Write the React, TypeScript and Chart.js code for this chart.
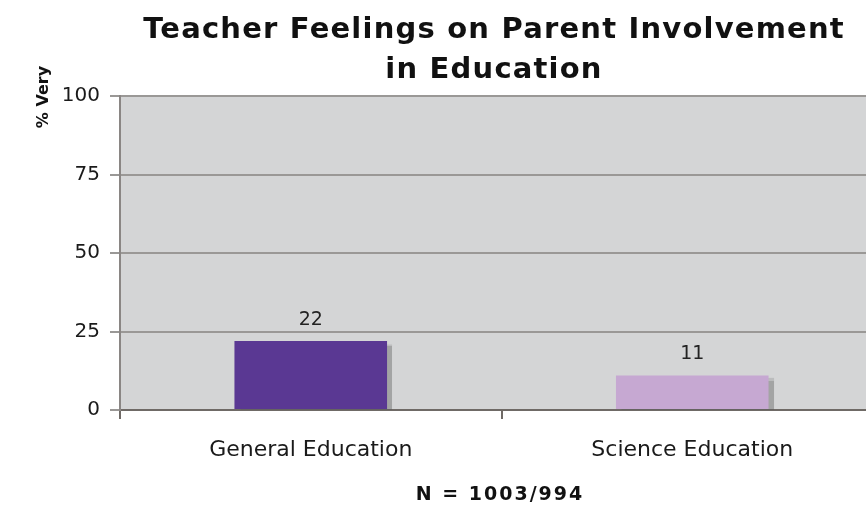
import React, { useEffect, useRef } from "react";
import { Chart, registerables } from "chart.js";

Chart.register(...registerables);

const categories = ["General Education", "Science Education"];
const values = [22, 11];
const barColors = ["#5a3893", "#c6a8d2"];
const titleLines = ["Teacher Feelings on Parent Involvement", "in Education"];
const yAxisTitle = "% Very";
const footnote = "N = 1003/994";

const FONT = "'DejaVu Sans', 'Noto Sans', sans-serif";

const decorPlugin = {
  id: "decor",
  beforeDraw(chart: any) {
    const { ctx, chartArea } = chart;
    ctx.save();
    ctx.fillStyle = "#ffffff";
    ctx.fillRect(0, 0, chart.width, chart.height);
    ctx.fillStyle = "#d4d5d6";
    ctx.fillRect(chartArea.left, chartArea.top, chartArea.right - chartArea.left, chartArea.bottom - chartArea.top);
    ctx.restore();
  },
  beforeDatasetDraw(chart: any) {
    const ctx = chart.ctx;
    ctx.save();
    ctx.shadowColor = "rgba(90,90,90,0.4)";
    ctx.shadowOffsetX = 5;
    ctx.shadowOffsetY = 3;
    ctx.shadowBlur = 1;
  },
  afterDatasetDraw(chart: any) {
    chart.ctx.restore();
  },
  afterDraw(chart: any) {
    const { ctx } = chart;
    ctx.save();
    // data labels
    const meta = chart.getDatasetMeta(0);
    ctx.fillStyle = "#222";
    ctx.font = `19px ${FONT}`;
    ctx.textAlign = "center";
    ctx.textBaseline = "middle";
    meta.data.forEach((bar: any, i: number) => {
      ctx.fillText(String(values[i]), bar.x, bar.y - 21);
    });
    // title
    ctx.fillStyle = "#111";
    ctx.font = `bold 29px ${FONT}`;
    (ctx as any).letterSpacing = "1.2px";
    ctx.fillText(titleLines[0], 494, 30);
    ctx.fillText(titleLines[1], 494, 70);
    // footnote
    ctx.font = `bold 19px ${FONT}`;
    (ctx as any).letterSpacing = "2px";
    ctx.fillText(footnote, 500, 495);
    (ctx as any).letterSpacing = "0px";
    // y axis title
    ctx.translate(44, 97);
    ctx.rotate(-Math.PI / 2);
    ctx.font = `bold 16px ${FONT}`;
    ctx.fillText(yAxisTitle, 0, 0);
    ctx.restore();
  },
};

export default function App() {
  const ref = useRef<HTMLCanvasElement>(null);
  useEffect(() => {
    if (!ref.current) return;
    const chart = new Chart(ref.current, {
      type: "bar",
      data: {
        labels: categories,
        datasets: [
          {
            data: values,
            backgroundColor: barColors,
            borderWidth: 0,
            categoryPercentage: 0.4,
            barPercentage: 1,
          },
        ],
      },
      options: {
        animation: false,
        responsive: false,
        maintainAspectRatio: false,
        layout: { padding: { top: 96, bottom: 0, left: 0, right: 1 } },
        plugins: {
          legend: { display: false },
          title: { display: false },
          tooltip: { enabled: false },
        },
        scales: {
          x: {
            offset: true,
            afterFit: (s: any) => {
              s.height = 96;
            },
            grid: {
              offset: true,
              drawOnChartArea: false,
              drawTicks: true,
              tickLength: 9,
              color: "#6f6a66",
              lineWidth: 2,
            },
            border: { display: true, color: "#6f6a66", width: 2 },
            ticks: {
              color: "#1a1a1a",
              font: { family: "'DejaVu Sans', sans-serif", size: 22 },
              padding: 18,
            },
          },
          y: {
            min: 0,
            max: 100,
            afterFit: (s: any) => {
              s.width = 120;
            },
            ticks: {
              stepSize: 25,
              color: "#1a1a1a",
              font: { family: "'DejaVu Sans', sans-serif", size: 20 },
              padding: 10,
            },
            grid: {
              color: "#9a9896",
              lineWidth: 2,
              tickLength: 10,
              drawTicks: true,
            },
            border: { display: true, color: "#8a8684", width: 2 },
          },
        },
      },
      plugins: [decorPlugin],
    });
    return () => chart.destroy();
  }, []);
  return (
    <div style={{ position: "absolute", left: 0, top: 0, width: 866, height: 506, overflow: "hidden", background: "#fff" }}>
      <canvas ref={ref} width={884} height={506} style={{ display: "block", width: 884, height: 506 }} />
    </div>
  );
}
